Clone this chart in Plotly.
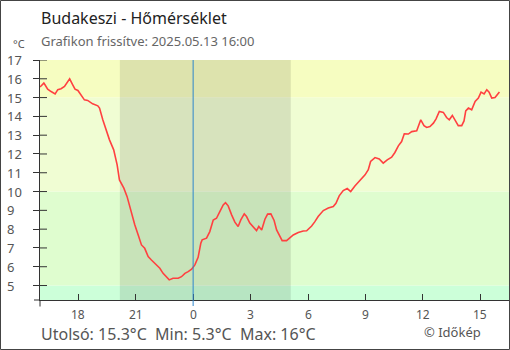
import plotly.graph_objects as go

# hours relative to midnight of 2025-05-13 (negative = previous evening)
hours = [-8.0, -7.80, -7.74, -7.60, -7.42, -7.21, -7.07, -6.90, -6.72, -6.55, -6.45, -6.29, -6.17,
         -6.02, -5.89, -5.68, -5.51, -5.25, -4.98, -4.89, -4.72, -4.55, -4.37, -4.15, -3.97, -3.85,
         -3.62, -3.45, -3.22, -3.05, -2.87, -2.70, -2.53, -2.35, -2.18, -1.91, -1.74, -1.57, -1.39,
         -1.25, -1.05, -0.78, -0.61, -0.43, -0.26, -0.08, 0.09, 0.26, 0.40, 0.47, 0.70, 0.87, 1.05,
         1.22, 1.40, 1.57, 1.69, 1.83, 2.01, 2.18, 2.35, 2.49, 2.67, 2.79, 2.96, 3.14, 3.31, 3.43,
         3.58, 3.75, 3.89, 4.06, 4.23, 4.36, 4.53, 4.65, 4.88, 5.05, 5.23, 5.49, 5.75, 5.93, 6.19,
         6.36, 6.53, 6.80, 7.06, 7.32, 7.46, 7.63, 7.84, 8.05, 8.23, 8.45, 8.71, 8.98, 9.15, 9.27,
         9.50, 9.72, 9.93, 10.14, 10.37, 10.54, 10.72, 10.89, 11.03, 11.24, 11.42, 11.68, 11.89,
         12.06, 12.20, 12.37, 12.55, 12.69, 12.86, 13.07, 13.24, 13.38, 13.54, 13.68, 13.85, 14.03,
         14.15, 14.24, 14.38, 14.55, 14.73, 14.90, 15.04, 15.20, 15.34, 15.46, 15.60, 15.77, 15.94,
         16.0]
temps = [15.56, 15.77, 15.68, 15.45, 15.32, 15.2, 15.42, 15.47, 15.59, 15.86, 16.0, 15.68, 15.45,
         15.38, 15.2, 14.88, 14.85, 14.67, 14.56, 14.44, 13.82, 13.29, 12.75, 12.22, 11.42, 10.62,
         10.18, 9.73, 8.85, 8.23, 7.69, 7.16, 6.98, 6.54, 6.36, 6.10, 5.92, 5.65, 5.44,
         5.30, 5.39, 5.39, 5.47, 5.65, 5.74, 5.87, 6.10, 6.50, 7.25, 7.43, 7.52, 7.87, 8.49,
         8.58, 8.94, 9.29, 9.41, 9.24, 8.76, 8.37, 8.14, 8.49, 8.81, 8.67, 8.32, 8.10, 7.92, 8.14,
         7.96, 8.53, 8.80, 8.81, 8.46, 7.96, 7.60, 7.39, 7.39, 7.52, 7.69, 7.82, 7.90, 7.91, 8.17,
         8.40, 8.67, 8.99, 9.12, 9.20, 9.38, 9.77, 10.05, 10.16, 10.0, 10.30, 10.57, 10.89, 11.16, 11.60,
         11.81, 11.73, 11.51, 11.69, 11.83, 12.08, 12.43, 12.66, 13.07, 13.06, 13.19, 13.23, 13.82,
         13.51, 13.41, 13.46, 13.64, 13.87, 14.26, 14.21, 13.94, 13.82, 14.05, 13.82, 13.51, 13.51,
         13.76, 14.29, 14.44, 14.35, 14.79, 14.97, 15.29, 15.19, 15.42, 15.29, 14.97, 15.0, 15.19,
         15.3]

x_tickvals = [-6, -3, 0, 3, 6, 9, 12, 15]
x_ticktext = ["18", "21", "0", "3", "6", "9", "12", "15"]
y_ticks = [5, 6, 7, 8, 9, 10, 11, 12, 13, 14, 15, 16, 17]
band_edges = [4.0, 5.0, 10.0, 15.0, 17.5]
band_colors = ["#ccffd9", "#dffdcf", "#f0fdd3", "#f6fdc1"]
night = [-3.83, 5.1]  # sunset / sunrise

title = "Budakeszi - Hőmérséklet"
subtitle = "Grafikon frissítve: 2025.05.13 16:00"
footer = "Utolsó: 15.3°C\u00a0 Min: 5.3°C\u00a0 Max: 16°C"
credit = "© Időkép"

W, H = 510, 350
L, R, T, B = 40, 1, 60, 50
PW, PH = W - L - R, H - T - B
def px(xp):
    return (xp - L) / PW
def py(yp):
    return (H - B - yp) / PH

FONT = "Noto Sans"
fig = go.Figure()
fig.add_trace(go.Scatter(x=hours, y=temps, mode="lines",
                         line=dict(color="#ff4040", width=1.6), hoverinfo="skip"))

shapes = []
for i, c in enumerate(band_colors):
    shapes.append(dict(type="rect", xref="paper", yref="y", x0=0, x1=1,
                       y0=band_edges[i], y1=band_edges[i + 1], fillcolor=c,
                       line=dict(width=0), layer="below"))
shapes.append(dict(type="rect", xref="x", yref="paper", x0=night[0], x1=night[1], y0=0, y1=1,
                   fillcolor="rgba(0,0,0,0.1)", line=dict(width=0), layer="below"))
shapes.append(dict(type="line", xref="x", yref="paper", x0=0, x1=0, y0=py(306), y1=1,
                   line=dict(color="#2f86cc", width=1)))
# inside y ticks
for v in y_ticks:
    shapes.append(dict(type="line", xref="paper", yref="y", x0=0, x1=px(47), y0=v, y1=v,
                       line=dict(color="#333", width=1)))
# axis extensions at corner
shapes.append(dict(type="line", xref="paper", yref="paper", x0=px(34), x1=0, y0=0, y1=0,
                   line=dict(color="#333", width=1)))
shapes.append(dict(type="line", xref="paper", yref="paper", x0=0, x1=0, y0=py(306.5), y1=0,
                   line=dict(color="#333", width=1)))
# frame
shapes.append(dict(type="rect", xref="paper", yref="paper", x0=px(0.5), x1=px(509.5),
                   y0=py(349.5), y1=py(0.5), line=dict(color="#444", width=1)))

ann = []
for v in y_ticks:
    ann.append(dict(text=str(v), xref="paper", yref="y", x=px(5), y=v, xanchor="left",
                    yanchor="middle", showarrow=False, font=dict(family=FONT, size=13, color="#555")))
for v, t in zip(x_tickvals, x_ticktext):
    ann.append(dict(text=t, xref="x", yref="paper", x=v, y=py(314), xanchor="center",
                    yanchor="middle", showarrow=False, font=dict(family=FONT, size=12, color="#555")))
ann.append(dict(text=title, xref="paper", yref="paper", x=px(39), y=py(18), xanchor="left",
                yanchor="middle", showarrow=False, font=dict(family=FONT, size=16, color="#222")))
ann.append(dict(text=subtitle, xref="paper", yref="paper", x=px(39), y=py(41), xanchor="left",
                yanchor="middle", showarrow=False, font=dict(family=FONT, size=13, color="#666")))
ann.append(dict(text="°C", xref="paper", yref="paper", x=px(11), y=py(43.5), xanchor="left",
                yanchor="middle", showarrow=False, font=dict(family=FONT, size=11, color="#555")))
ann.append(dict(text=footer, xref="paper", yref="paper", x=px(39), y=py(333.5), xanchor="left",
                yanchor="middle", showarrow=False, font=dict(family=FONT, size=16, color="#555")))
ann.append(dict(text=credit, xref="paper", yref="paper", x=px(483), y=py(332), xanchor="right",
                yanchor="middle", showarrow=False, font=dict(family=FONT, size=13, color="#555")))

fig.update_layout(
    width=W, height=H, margin=dict(l=L, r=R, t=T, b=B),
    paper_bgcolor="white", plot_bgcolor="white", showlegend=False,
    shapes=shapes, annotations=ann,
    xaxis=dict(range=[-8, 16.5], tickvals=x_tickvals, showticklabels=False, ticks="inside",
               ticklen=6, tickcolor="#333", showline=True, linecolor="#333", linewidth=1,
               showgrid=False, zeroline=False),
    yaxis=dict(range=[4.23, 17.0], tickvals=y_ticks, ticks="outside", ticklen=6, tickcolor="#333",
               showticklabels=False, showline=True, linecolor="#333", linewidth=1,
               showgrid=False, zeroline=False),
)
fig.write_html("out.html")
